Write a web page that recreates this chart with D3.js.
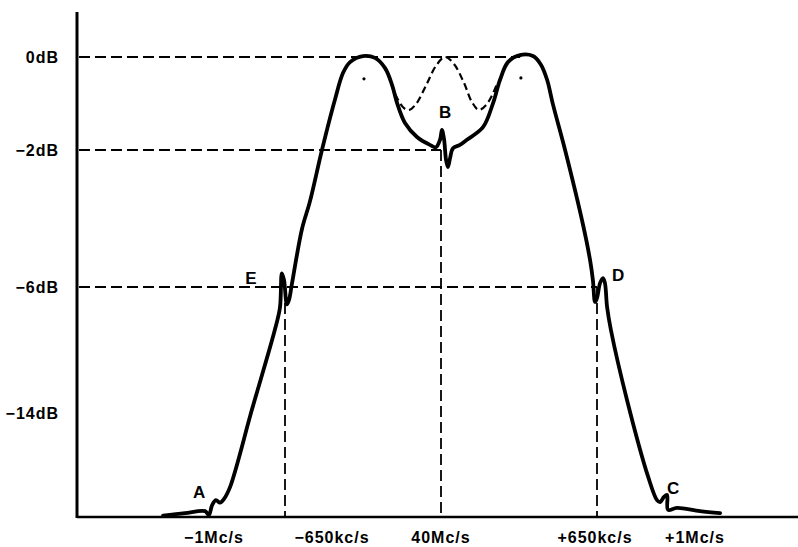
<!DOCTYPE html>
<html>
<head>
<meta charset="utf-8">
<script src="https://cdn.jsdelivr.net/npm/d3@7"></script>
<style>
  body { margin: 0; background: #fff; }
  text { font-family: "Liberation Sans", Arial, sans-serif; font-weight: bold; fill: #000; }
</style>
</head>
<body>
<div id="chart"></div>
<script>
// frequency offset from 40 Mc/s in kc/s, response in dB
const respFreq = [-1158, -1067, -983, -967, -954, -938, -921, -904, -879, -788, -692, -671, -663, -654, -642, -633, -621,
  -579, -546, -496, -442, -408, -379, -325, -275, -233, -204, -183, -150, -100, -46, -21, -4, 4, 13, 21, 29, 38, 50,
  79, 108, 175, 217, 246, 279, 329, 383, 417, 442, 467, 517, 592, 621, 633, 642, 650, 663, 675, 683, 692, 708, 775,
  863, 900, 913, 929, 942, 946, 983, 1079, 1163];
const respGain = [-29.8, -29.4, -29.1, -29.7, -28.2, -27.4, -27.8, -27.2, -25.4, -13.8, -8.7, -7.3, -5.6, -5.8, -7.1, -6.8, -5.9,
  -4.3, -3.5, -2.0, -0.92, -0.34, -0.11, 0.02, -0.02, -0.24, -0.6, -0.99, -1.42, -1.72, -1.89, -1.94, -1.78, -1.57, -1.78, -2.29, -2.5, -2.23, -1.96,
  -1.89, -1.78, -1.51, -0.99, -0.49, -0.11, 0.04, 0.02, -0.17, -0.49, -1.03, -2.0, -4.19, -5.21, -5.8, -6.95, -6.7, -5.88, -5.74, -5.88, -7.27, -8.73, -13.17,
  -23.8, -27.4, -27.7, -26.9, -26.6, -28.9, -28.6, -29.1, -29.4];

// dashed alternative response in the pass band
const altFreq = [-208, -179, -154, -133, -104, -63, -21, 17, 54, 96, 129, 158, 188, 213, 233];
const altGain = [-0.58, -0.92, -1.1, -1.14, -1.01, -0.62, -0.19, 0, -0.15, -0.56, -0.97, -1.14, -1.03, -0.82, -0.58];

const yTicks = [0, -2, -6, -14];
const yLabels = ["0dB", "\u22122dB", "\u22126dB", "\u221214dB"];
const xTicks = [-1000, -650, 0, 650, 1000];
const xLabels = ["\u22121Mc/s", "\u2212650kc/s", "40Mc/s", "+650kc/s", "+1Mc/s"];

// reference levels: dB, frequency where the horizontal dash ends
const levelGain = [0, -2, -6];
const levelEnd = [330, 0, 650];
// vertical markers: frequency, dB where they start
const markFreq = [-650, 0, 650];
const markGain = [-6, -2, -6];

const pointNames = ["A", "B", "C", "D", "E"];
const pointFreq = [-1008, 17, 967, 738, -792];
const pointGain = [-26.2, -1.18, -25.5, -5.65, -5.74];

const dotFreq = [-321, 333];
const dotGain = [-0.47, -0.45];

const width = 798, height = 547;
const axisX = 77, axisTop = 12, axisRight = 798;

const x = d3.scaleLinear().domain([-1000, 1000]).range([201, 681]);
const y = d3.scaleLinear().domain([0, -2, -6, -14, -30]).range([57, 150, 287, 413, 517]);
const baseY = y(-30);

const svg = d3.select("#chart").append("svg")
  .attr("width", width)
  .attr("height", height);

// dashed guides
const guides = svg.append("g")
  .attr("stroke", "#000")
  .attr("stroke-width", 1.8)
  .attr("stroke-dasharray", "11,5")
  .attr("fill", "none");

levelGain.forEach((g, i) => {
  guides.append("line")
    .attr("x1", axisX + 2).attr("x2", x(levelEnd[i]))
    .attr("y1", y(g)).attr("y2", y(g));
});
markFreq.forEach((f, i) => {
  guides.append("line")
    .attr("x1", x(f)).attr("x2", x(f))
    .attr("y1", y(markGain[i])).attr("y2", baseY);
});

// axes
svg.append("line")
  .attr("x1", axisX).attr("x2", axisX)
  .attr("y1", axisTop).attr("y2", baseY + 1)
  .attr("stroke", "#000").attr("stroke-width", 3);
svg.append("line")
  .attr("x1", axisX).attr("x2", axisRight)
  .attr("y1", baseY).attr("y2", baseY)
  .attr("stroke", "#000").attr("stroke-width", 2.5);

svg.selectAll(".ylab")
  .data(yTicks)
  .enter()
  .append("text")
  .attr("class", "ylab")
  .attr("x", 59)
  .attr("y", d => y(d))
  .attr("dy", "0.35em")
  .style("text-anchor", "end")
  .style("font-size", "16px")
  .style("letter-spacing", "1px")
  .text((d, i) => yLabels[i]);

const labelShift = [13, 47, 0, -2, 14];
svg.selectAll(".xlab")
  .data(xTicks)
  .enter()
  .append("text")
  .attr("class", "xlab")
  .attr("x", (d, i) => x(d) + labelShift[i])
  .attr("y", 543)
  .style("text-anchor", "middle")
  .style("font-size", "16px")
  .style("letter-spacing", "1px")
  .text((d, i) => xLabels[i]);

// curves
const line = d3.line()
  .x(d => x(d[0]))
  .y(d => y(d[1]))
  .curve(d3.curveCatmullRom.alpha(0.5));

svg.append("path")
  .attr("d", line(altFreq.map((f, i) => [f, altGain[i]])))
  .attr("fill", "none")
  .attr("stroke", "#000")
  .attr("stroke-width", 2.2)
  .attr("stroke-dasharray", "7,4");

svg.append("path")
  .attr("d", line(respFreq.map((f, i) => [f, respGain[i]])))
  .attr("fill", "none")
  .attr("stroke", "#000")
  .attr("stroke-width", 3.8)
  .attr("stroke-linejoin", "round")
  .attr("stroke-linecap", "round");

svg.selectAll(".dot")
  .data(dotFreq)
  .enter()
  .append("circle")
  .attr("cx", d => x(d))
  .attr("cy", (d, i) => y(dotGain[i]))
  .attr("r", 1.6)
  .attr("fill", "#000");

svg.selectAll(".pt")
  .data(pointNames)
  .enter()
  .append("text")
  .attr("class", "pt")
  .attr("x", (d, i) => x(pointFreq[i]))
  .attr("y", (d, i) => y(pointGain[i]))
  .attr("dy", "0.35em")
  .style("text-anchor", "middle")
  .style("font-size", "17px")
  .text(d => d);
</script>
</body>
</html>
